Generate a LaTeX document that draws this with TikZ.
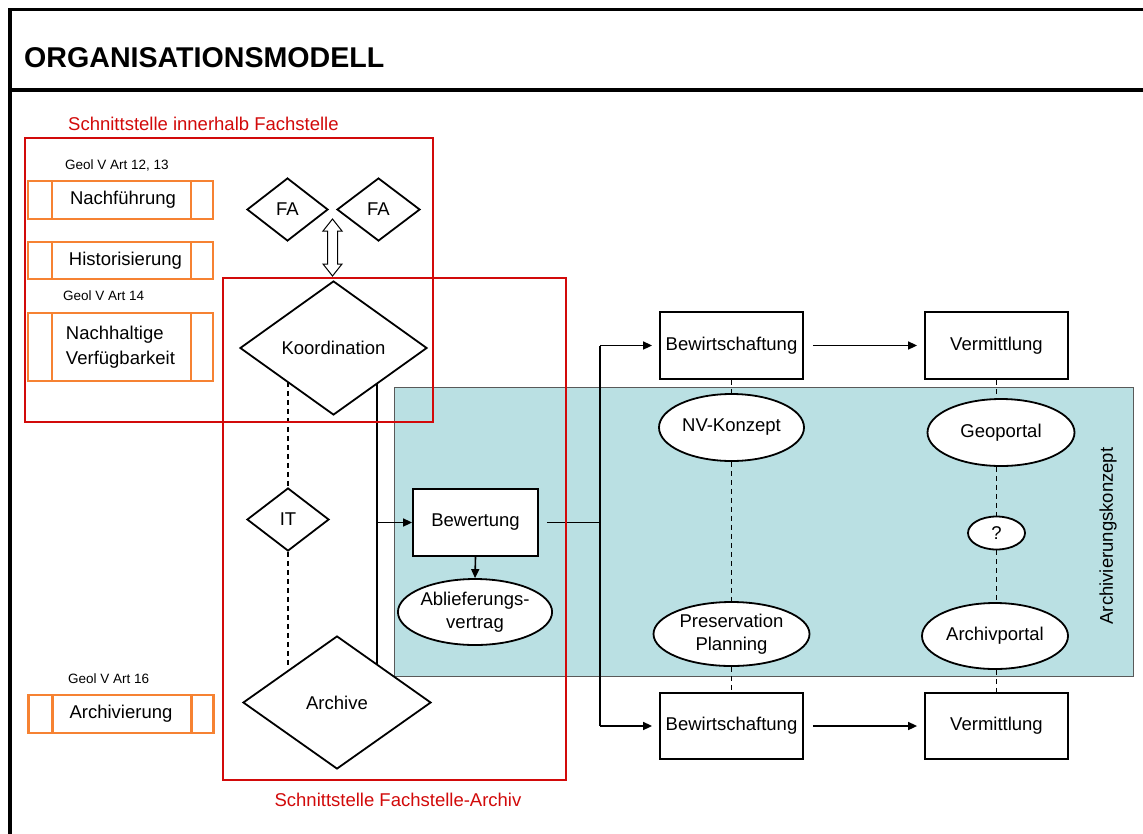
\documentclass[tikz,border=0pt]{standalone}
\usepackage{fontspec}
\setmainfont{Liberation Sans}
\usetikzlibrary{shapes.geometric,arrows.meta,calc}
\definecolor{frred}{RGB}{210,10,10}
\definecolor{orng}{RGB}{246,130,50}
\definecolor{tealbg}{RGB}{186,224,227}
\pgfdeclarelayer{back}
\pgfdeclarelayer{conn}
\pgfsetlayers{back,conn,main}
\begin{document}
\begin{tikzpicture}[x=1pt,y=-1pt,
  lbl/.style={font=\fontsize{18.5}{23}\selectfont},
  small/.style={font=\fontsize{13.5}{16}\selectfont, inner sep=0pt, anchor=west},
  redlbl/.style={font=\fontsize{18.5}{21}\selectfont, text=frred, inner sep=0pt},
  redbox/.style={draw=frred, line width=2.2pt},
  procbox/.style={draw=orng, line width=2.2pt, fill=white, minimum width=185pt,
    inner sep=0pt, lbl, align=left,
    path picture={\draw[orng, line width=2.2pt]
      ([xshift=24pt]path picture bounding box.north west) -- ([xshift=24pt]path picture bounding box.south west)
      ([xshift=-22pt]path picture bounding box.north east) -- ([xshift=-22pt]path picture bounding box.south east);}},
  dia/.style={diamond, draw, line width=1.8pt, fill=white, inner sep=0pt, lbl},
  procrect/.style={rectangle, draw, line width=1.8pt, fill=white, inner sep=0pt, lbl,
    minimum width=143pt, minimum height=67pt},
  oval/.style={ellipse, draw, line width=1.8pt, fill=white, inner sep=0pt, lbl, align=center},
  arr/.style={line width=1.6pt, -{Triangle[length=9pt,width=8pt]}},
  conline/.style={line width=1.6pt},
  dashline/.style={line width=1.1pt, dash pattern=on 5pt off 4pt},
]
\useasboundingbox (0,0) rectangle (1143,833);

% background concept area
\begin{pgfonlayer}{back}
\fill[white] (0,0) rectangle (1143,833);
\node[draw=black!65, line width=1pt, fill=tealbg, minimum width=739pt, minimum height=289pt, inner sep=0pt] (akbox) at (763.5,531.5) {};
\end{pgfonlayer}

% frame and title
\draw[line width=3.5pt] (10,840) -- (10,9.5) -- (1150,9.5);
\draw[line width=3.5pt] (10,90) -- (1150,90);
\node[anchor=base west, inner sep=0pt, font=\fontsize{28.6}{32}\selectfont\bfseries] (title) at (24,67) {ORGANISATIONSMODELL};

\node[lbl, rotate=90, inner sep=0pt] (aklbl) at (1108,536) {Archivierungskonzept};

% red interface frames
\draw[redbox] (25,138) rectangle (433,422);
\draw[redbox] (223,278) rectangle (566,780);
\node[redlbl, anchor=west] (rl1) at (68,124) {Schnittstelle innerhalb Fachstelle};
\node[redlbl] (rl2) at (398,800) {Schnittstelle Fachstelle-Archiv};

% legal references and processes
\node[small] (g1) at (65,165) {Geol V Art 12, 13};
\node[small] (g2) at (63,296) {Geol V Art 14};
\node[small] (g3) at (68,679) {Geol V Art 16};
\node[procbox, minimum height=38pt] (nf) at (120.5,200) {\hspace*{5pt}Nachführung};
\node[procbox, minimum height=37pt] (hi) at (120.5,260.5) {\hspace*{10pt}Historisierung};
\node[procbox, minimum height=68pt, font=\fontsize{18.5}{25}\selectfont] (nv0) at (120.5,347) {Nachhaltige\\Verfügbarkeit};
\node[procbox, minimum height=38pt] (ar) at (121,714) {Archivierung};

% diamonds
\node[dia, minimum width=81pt, minimum height=63pt] (fa1) at (287.5,209.5) {FA};
\node[dia, minimum width=83pt, minimum height=63pt] (fa2) at (378.5,209.5) {FA};
\node[dia, minimum width=187pt, minimum height=134pt] (koord) at (333.5,348) {Koordination};
\node[dia, minimum width=82pt, minimum height=63pt] (it) at (288,519.5) {IT};
\node[dia, minimum width=188pt, minimum height=133pt] (arch) at (337,702.5) {Archive};

% double arrow between FA and Koordination
\coordinate (da) at (332.5,247.5);
\draw[line width=1pt, fill=white] ($(da)+(0,-28.5)$) -- ++(9.5,12) -- ++(-4.5,0) -- ++(0,33) -- ++(4.5,0)
  -- ++(-9.5,12) -- ++(-9.5,-12) -- ++(4.5,0) -- ++(0,-33) -- ++(-4.5,0) -- cycle;

% Bewertung
\node[procrect, minimum width=125pt] (bew) at (475.5,522.5) {Bewertung};
\node[oval, minimum width=146pt, minimum height=66pt] (abl) at (475,612) {Ablieferungs-\\vertrag};

% right side
\node[procrect] (bw1) at (731.5,345.5) {Bewirtschaftung};
\node[procrect] (vm1) at (996.5,345.5) {Vermittlung};
\node[procrect, minimum height=66pt] (bw2) at (731.5,726) {Bewirtschaftung};
\node[procrect, minimum height=66pt] (vm2) at (996.5,726) {Vermittlung};
\node[oval, minimum width=145pt, minimum height=67pt] (nvk) at (731.5,427.5) {NV-Konzept};
\node[oval, minimum width=147pt, minimum height=67pt] (geo) at (1001,432.5) {Geoportal};
\node[oval, minimum width=57pt, minimum height=33pt] (q) at (996.5,533) {?};
\node[oval, minimum width=156pt, minimum height=64pt] (pp) at (731.5,634) {Preservation\\Planning};
\node[oval, minimum width=146pt, minimum height=66pt] (ap) at (995,636) {Archivportal};

\coordinate (br) at (600,522.5);
\coordinate (vl) at ([xshift=-4pt]koord.south east);

\begin{pgfonlayer}{conn}
% left column connectors
\draw[dashline] (it.north |- koord.south west) -- (it.north);
\draw[dashline] (it.south) -- (it.south |- arch.north west);
\draw[conline] (vl) -- (vl |- arch.north east);
\draw[arr] (vl |- bew.west) -- (bew.west);
\draw[arr] (bew.south) -- (abl.north);
% branch to the two chains
\draw[conline, shorten <=8pt] (bew.east) -- (br);
\draw[conline] (br |- bw1.west) -- (br |- bw2.west);
\draw[arr, shorten >=7pt] (br |- bw1.west) -- (bw1.west);
\draw[arr, shorten >=7pt] (br |- bw2.west) -- (bw2.west);
\draw[arr, shorten <=9pt, shorten >=7pt] (bw1.east) -- (vm1.west);
\draw[arr, shorten <=9pt, shorten >=7pt] (bw2.east) -- (vm2.west);
% dashed vertical links
\draw[dashline] (bw1.south) -- (nvk.north);
\draw[dashline] (nvk.south) -- (pp.north);
\draw[dashline] (pp.south) -- (bw2.north);
\draw[dashline] (vm1.south) -- (vm1.south |- geo.north);
\draw[dashline] (vm1.south |- geo.south) -- (q.north);
\draw[dashline] (q.south) -- (q.south |- ap.north);
\draw[dashline] (q.south |- ap.south) -- (vm2.north);
\end{pgfonlayer}
\end{tikzpicture}
\end{document}
